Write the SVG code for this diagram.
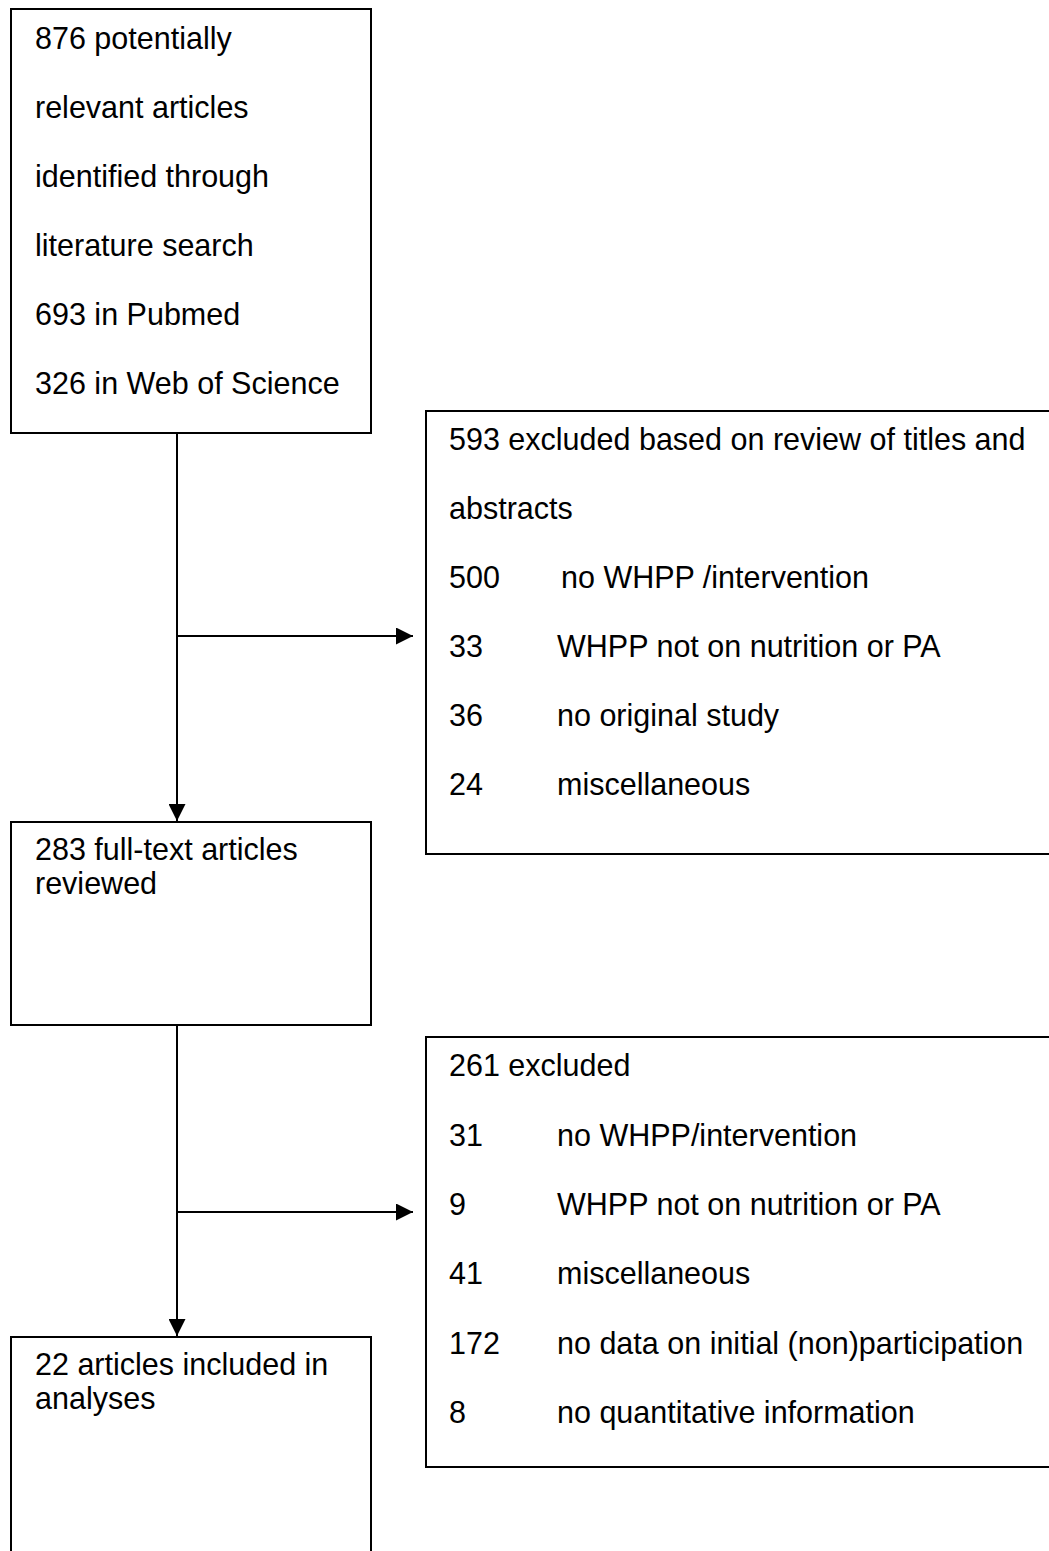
<svg xmlns="http://www.w3.org/2000/svg" width="1049" height="1551" viewBox="0 0 1049 1551">
<style>
  .box { fill: #ffffff; stroke: #000000; stroke-width: 2; }
  .t { font-family: "Liberation Sans", Arial, Helvetica, sans-serif; font-size: 30.5px; fill: #000000; }
  .conn { stroke: #000000; stroke-width: 2; fill: none; }
</style>
<defs>
  <marker id="arr" viewBox="0 0 10 10" refX="10" refY="5" markerWidth="17" markerHeight="17" markerUnits="userSpaceOnUse" orient="auto">
    <path d="M0,0 L10,5 L0,10 Z" fill="#000000"/>
  </marker>
</defs>
<rect width="1049" height="1551" fill="#ffffff"/>

<g id="connectors">
  <line class="conn" x1="177" y1="433" x2="177" y2="821" marker-end="url(#arr)"/>
  <line class="conn" x1="177" y1="636" x2="413" y2="636" marker-end="url(#arr)"/>
  <line class="conn" x1="177" y1="1025" x2="177" y2="1336" marker-end="url(#arr)"/>
  <line class="conn" x1="177" y1="1212" x2="413" y2="1212" marker-end="url(#arr)"/>
</g>

<g id="node-identified">
  <rect class="box" x="11" y="9" width="360" height="424"/>
  <text class="t" x="35" y="49">876 potentially</text>
  <text class="t" x="35" y="118">relevant articles</text>
  <text class="t" x="35" y="187">identified through</text>
  <text class="t" x="35" y="256">literature search</text>
  <text class="t" x="35" y="325">693 in Pubmed</text>
  <text class="t" x="35" y="394">326 in Web of Science</text>
</g>

<g id="node-excluded1">
  <rect class="box" x="426" y="411" width="640" height="443"/>
  <text class="t" x="449" y="450">593 excluded based on review of titles and</text>
  <text class="t" x="449" y="519">abstracts</text>
  <text class="t" x="449" y="588">500</text><text class="t" x="561" y="588">no WHPP /intervention</text>
  <text class="t" x="449" y="657">33</text><text class="t" x="557" y="657">WHPP not on nutrition or PA</text>
  <text class="t" x="449" y="726">36</text><text class="t" x="557" y="726">no original study</text>
  <text class="t" x="449" y="795">24</text><text class="t" x="557" y="795">miscellaneous</text>
</g>

<g id="node-fulltext">
  <rect class="box" x="11" y="822" width="360" height="203"/>
  <text class="t" x="35" y="860">283 full-text articles</text>
  <text class="t" x="35" y="894">reviewed</text>
</g>

<g id="node-excluded2">
  <rect class="box" x="426" y="1037" width="640" height="430"/>
  <text class="t" x="449" y="1076">261 excluded</text>
  <text class="t" x="449" y="1146">31</text><text class="t" x="557" y="1146">no WHPP/intervention</text>
  <text class="t" x="449" y="1215">9</text><text class="t" x="557" y="1215">WHPP not on nutrition or PA</text>
  <text class="t" x="449" y="1284">41</text><text class="t" x="557" y="1284">miscellaneous</text>
  <text class="t" x="449" y="1354">172</text><text class="t" x="557" y="1354">no data on initial (non)participation</text>
  <text class="t" x="449" y="1423">8</text><text class="t" x="557" y="1423">no quantitative information</text>
</g>

<g id="node-included">
  <rect class="box" x="11" y="1337" width="360" height="240"/>
  <text class="t" x="35" y="1375">22 articles included in</text>
  <text class="t" x="35" y="1409">analyses</text>
</g>
</svg>
